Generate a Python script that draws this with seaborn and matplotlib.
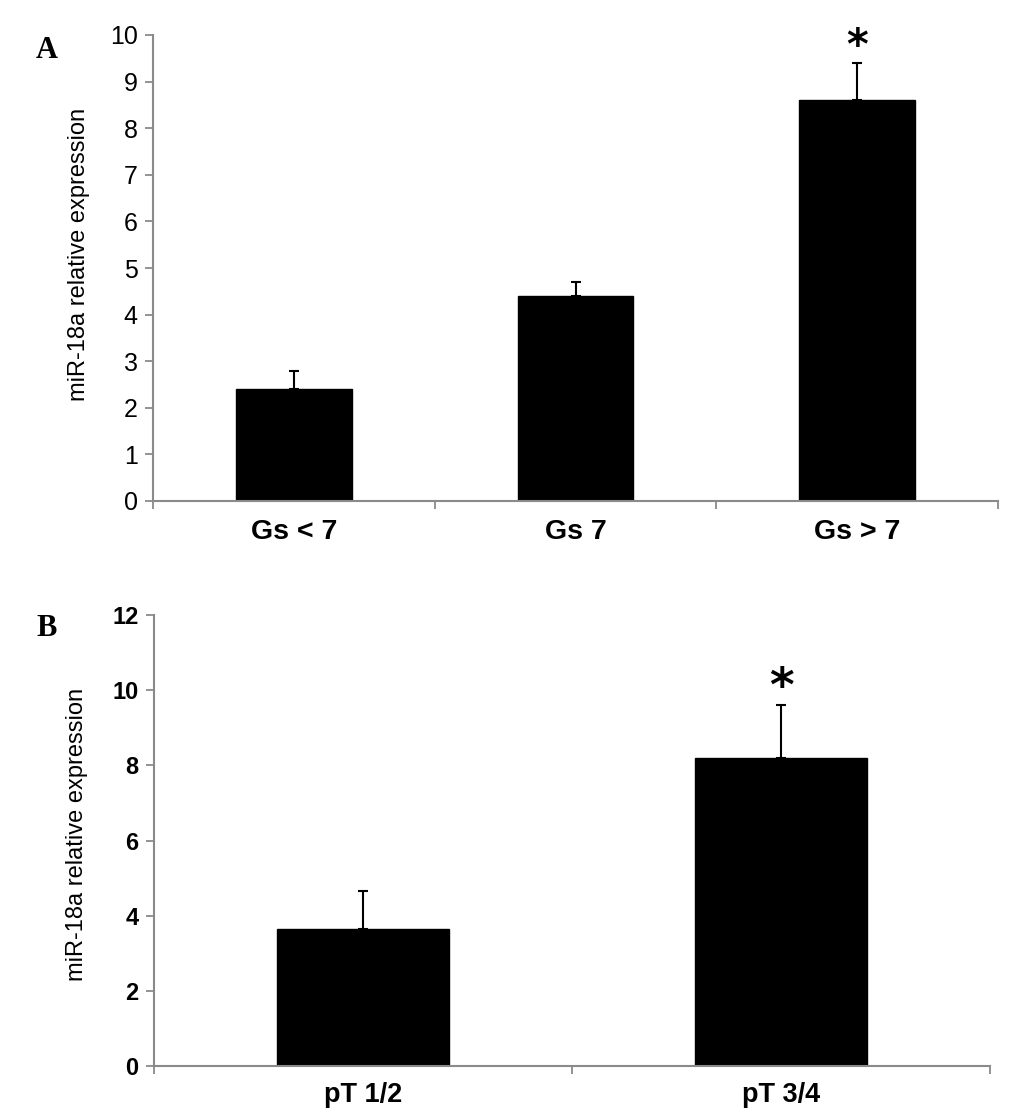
import matplotlib
matplotlib.use("Agg")
import matplotlib.pyplot as plt
import seaborn as sns
import pandas as pd
import numpy as np

# ==================================================
# DATA
# ==================================================

GLEASON_GROUPS = ["Gs < 7", "Gs 7", "Gs > 7"]
GLEASON_MEAN = [2.4, 4.4, 8.6]
GLEASON_ERR = [0.4, 0.3, 0.8]
GLEASON_STARS = ["", "", "*"]

STAGE_GROUPS = ["pT 1/2", "pT 3/4"]
STAGE_MEAN = [3.65, 8.2]
STAGE_ERR = [1.0, 1.4]
STAGE_STARS = ["", "*"]

Y_LABEL = "miR-18a relative expression"

# ==================================================
# STYLE
# ==================================================

sns.set_theme(style="white")
plt.rcParams["font.family"] = ["Liberation Sans", "DejaVu Sans"]
plt.rcParams["text.color"] = "black"
plt.rcParams["axes.labelcolor"] = "black"
plt.rcParams["xtick.labelcolor"] = "black"
plt.rcParams["ytick.labelcolor"] = "black"

AXIS_GREY = "#8a8a8a"


def draw_panel(ax, groups, means, errs, stars, ymax, yticks,
               tick_weight, tick_size, xlabel_size, xlabel_pad,
               star_size, star_off):

    df = pd.DataFrame({"group": groups, "value": means})

    sns.barplot(
        data=df,
        x="group",
        y="value",
        color="black",
        saturation=1,
        width=0.41,
        errorbar=None,
        edgecolor="black",
        ax=ax
    )

    pos = np.arange(len(groups))

    ax.errorbar(
        pos,
        means,
        yerr=[np.zeros(len(errs)), errs],
        fmt="none",
        ecolor="black",
        elinewidth=1.5,
        capsize=3.5,
        capthick=1.5
    )

    for x, m, e, s in zip(pos, means, errs, stars):
        if s:
            ax.text(
                x, m + e + star_off, s,
                ha="center", va="baseline",
                fontsize=star_size, fontweight="bold",
                family="DejaVu Sans", color="black"
            )

    ax.set_xlim(-0.5, len(groups) - 0.5)
    ax.set_ylim(0, ymax)
    ax.set_yticks(yticks)
    ax.set_yticklabels([str(t) for t in yticks],
                       fontsize=tick_size, fontweight=tick_weight)

    ax.set_xticks(pos)
    ax.set_xticklabels(groups, fontsize=xlabel_size, fontweight="bold")
    ax.set_xticks(np.arange(-0.5, len(groups)), minor=True)

    ax.tick_params(axis="x", which="major", length=0, pad=xlabel_pad)
    ax.tick_params(axis="x", which="minor", length=6, width=1.3,
                   color=AXIS_GREY, direction="out", bottom=True)
    ax.tick_params(axis="y", which="major", length=6, width=1.3,
                   color=AXIS_GREY, direction="out", left=True, pad=5)

    ax.set_xlabel("")
    ax.set_ylabel(Y_LABEL, fontsize=17)

    for side in ["top", "right"]:
        ax.spines[side].set_visible(False)
    for side in ["left", "bottom"]:
        ax.spines[side].set_color(AXIS_GREY)
        ax.spines[side].set_linewidth(1.5)

    ax.set_facecolor("white")


# ==================================================
# FIGURE
# ==================================================

W, H = 1033, 1116
fig = plt.figure(figsize=(W / 100, H / 100), dpi=100)
fig.patch.set_facecolor("white")

ax_a = fig.add_axes([153 / W, 1 - 501 / H, 845 / W, 466 / H])
ax_b = fig.add_axes([154 / W, 1 - 1066 / H, 836 / W, 451 / H])

draw_panel(ax_a, GLEASON_GROUPS, GLEASON_MEAN, GLEASON_ERR, GLEASON_STARS,
           10, list(range(0, 11)), "normal", 18, 20.5, 13, 30, 0.08)
ax_a.yaxis.set_label_coords(-0.0746, 0.53)

draw_panel(ax_b, STAGE_GROUPS, STAGE_MEAN, STAGE_ERR, STAGE_STARS,
           12, list(range(0, 13, 2)), "bold", 17, 19.5, 11.5, 34, 0.1)
ax_b.yaxis.set_label_coords(-0.079, 0.514)

fig.text(36 / W, 1 - 58 / H, "A", fontsize=22, fontweight="bold",
         family="Liberation Serif", ha="left", va="baseline")
fig.text(36 / W, 1 - 636 / H, "B", fontsize=22, fontweight="bold",
         family="Liberation Serif", ha="left", va="baseline")

fig.savefig("out.png", dpi=100, facecolor="white")
